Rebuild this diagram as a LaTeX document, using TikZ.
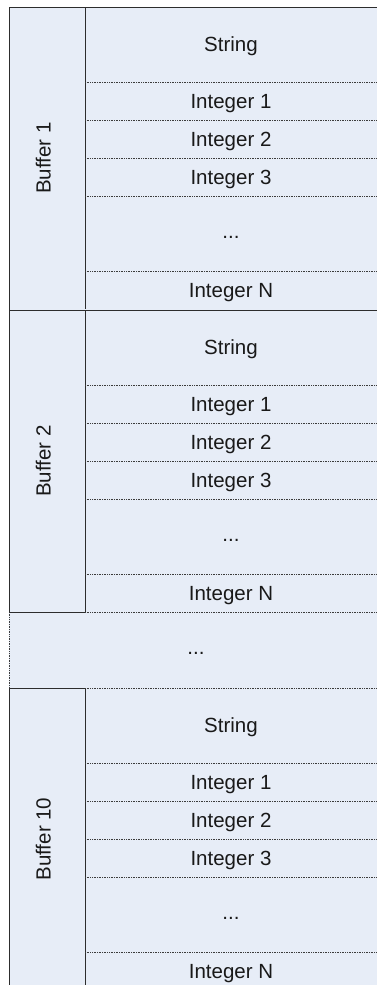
\documentclass[tikz,border=0pt]{standalone}
\usepackage{fontspec}
\setmainfont{Liberation Sans}
\definecolor{bgfill}{RGB}{231,237,247}
\definecolor{solidline}{RGB}{45,45,45}
\definecolor{dotline}{RGB}{60,60,60}
\definecolor{txt}{RGB}{25,25,25}
\begin{document}
\begin{tikzpicture}[x=1pt,y=-1pt,
  cell/.style={inner sep=0pt, text=txt, text height=0.716em, text depth=0pt, font=\fontsize{20.5}{24}\selectfont},
  lbl/.style={cell, rotate=90},
  solidln/.style={draw=solidline, line width=1pt},
  dotln/.style={draw=dotline, line width=0.9pt, dash pattern=on 1pt off 0.7pt},
]
\useasboundingbox (0,0) rectangle (377,985);
\fill[bgfill] (9,7) rectangle (381,992);
% top edge
\draw[solidln] (9,7) -- (381,7);
% outer left edge
\draw[solidln] (9,7) -- (9,612);
\draw[dotln] (9,612) -- (9,688);
\draw[solidln] (9,688) -- (9,992);
% buffers
\foreach \T/\name/\id in {7/Buffer 1/a, 310/Buffer 2/b, 688/Buffer 10/c}{
  \draw[solidln] (85,\T) -- (85,\T+302);
  \node[lbl] (lbl\id) at (47,\T+151) {\name};
  \node[cell] (str\id) at (231,\T+41) {String};
  \node[cell] (ia\id) at (231,\T+97.5) {Integer 1};
  \node[cell] (ib\id) at (231,\T+135.5) {Integer 2};
  \node[cell] (ic\id) at (231,\T+173.5) {Integer 3};
  \node[cell] (dots\id) at (231,\T+228) {...};
  \node[cell] (in\id) at (231,\T+286.5) {Integer N};
  \foreach \d in {75.5,113.5,151.5,189.5,264.5}{
    \draw[dotln] (85,\T+\d) -- (381,\T+\d);
  }
}
% buffer boundaries
\draw[solidln] (9,310) -- (381,310);
\draw[solidln] (9,612) -- (85,612);
\draw[dotln] (85,612) -- (381,612);
\draw[solidln] (9,688) -- (85,688);
\draw[dotln] (85,688) -- (381,688);
\node[cell] (gapdots) at (196,651) {...};
\end{tikzpicture}
\end{document}
